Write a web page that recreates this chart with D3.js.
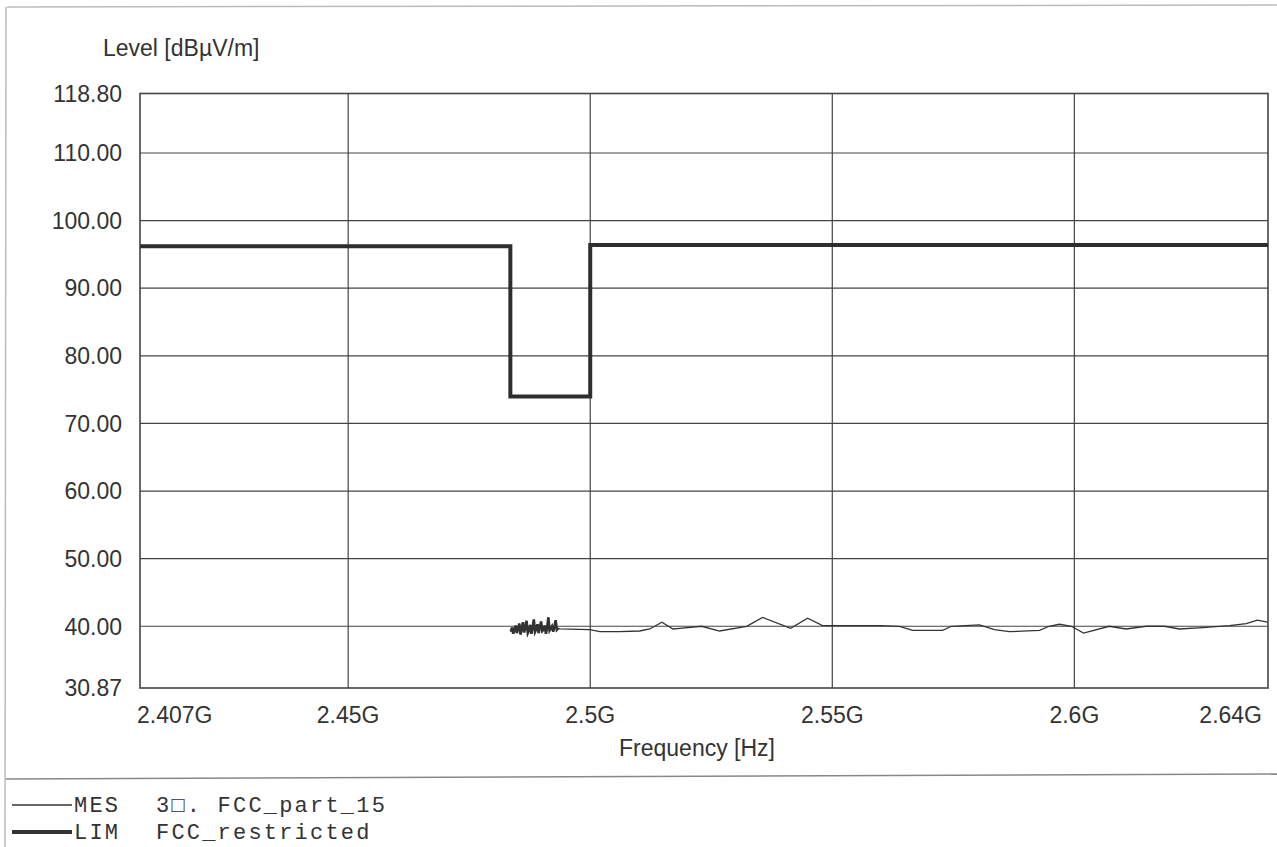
<!DOCTYPE html>
<html>
<head>
<meta charset="utf-8">
<script src="https://cdn.jsdelivr.net/npm/d3@7"></script>
<style>
  html, body { margin: 0; padding: 0; background: #fff; }
  svg { display: block; }
</style>
</head>
<body>
<svg id="chart" width="1277" height="847"></svg>
<script>
// ---- data ----
const yTickValues = [30.87, 40, 50, 60, 70, 80, 90, 100, 110, 118.8];
const yTickLabels = ["30.87", "40.00", "50.00", "60.00", "70.00", "80.00", "90.00", "100.00", "110.00", "118.80"];
const xTickValues = [2.407, 2.45, 2.5, 2.55, 2.6, 2.64];
const xTickLabels = ["2.407G", "2.45G", "2.5G", "2.55G", "2.6G", "2.64G"];

// Limit line FCC_restricted (GHz, dBuV/m)
const limFreq = [2.407, 2.4835, 2.4835, 2.5, 2.5, 2.64];
const limLevel = [96.2, 96.2, 74.0, 74.0, 96.4, 96.4];

// Measurement: dense sweep in restricted band
const mesNoiseFreq = [2.4836, 2.48385, 2.4841, 2.48435, 2.4846, 2.48485, 2.4851, 2.48535, 2.4856, 2.48585,
  2.4861, 2.48635, 2.4866, 2.48685, 2.4871, 2.48735, 2.4876, 2.48785, 2.4881, 2.48835,
  2.4886, 2.48885, 2.4891, 2.48935, 2.4896, 2.48985, 2.4901, 2.49035, 2.4906, 2.49085,
  2.4911, 2.49135, 2.4916, 2.49185, 2.4921, 2.49235, 2.4926, 2.49285, 2.4931, 2.49335];
const mesNoiseLevel = [39.2, 39.8, 38.9, 39.5, 40.1, 39.0, 39.7, 40.4, 38.8, 39.6,
  40.6, 39.1, 39.9, 40.8, 39.0, 39.4, 40.2, 38.9, 39.8, 41.0,
  39.2, 39.6, 40.3, 39.0, 39.9, 40.7, 39.3, 39.5, 40.1, 38.9,
  39.8, 41.3, 39.4, 39.7, 40.0, 39.2, 39.9, 40.9, 39.5, 39.7];

// Measurement: coarse sweep
const mesFreq = [2.4937, 2.4999, 2.5020, 2.5061, 2.5102, 2.5123, 2.5148, 2.5171, 2.5185, 2.5230,
  2.5267, 2.5323, 2.5356, 2.5414, 2.5449, 2.5480, 2.5536, 2.5598, 2.5639, 2.5666,
  2.5728, 2.5746, 2.5804, 2.5835, 2.5866, 2.5928, 2.5948, 2.5969, 2.5994, 2.6019,
  2.6072, 2.6107, 2.6148, 2.6186, 2.6217, 2.6265, 2.6320, 2.6355, 2.6378, 2.6399];
const mesLevel = [39.6, 39.5, 39.2, 39.2, 39.3, 39.6, 40.6, 39.6, 39.7, 40.0,
  39.3, 40.0, 41.3, 39.7, 41.2, 40.1, 40.1, 40.1, 40.0, 39.4,
  39.4, 40.0, 40.2, 39.5, 39.2, 39.4, 40.0, 40.3, 40.0, 39.0,
  40.0, 39.6, 40.0, 40.0, 39.6, 39.8, 40.1, 40.4, 40.9, 40.6];

const yLabel = "Level [dBµV/m]";
const xLabel = "Frequency [Hz]";
const legendItems = [
  {code: "MES", name: "3\u25A1. FCC_part_15"},
  {code: "LIM", name: "FCC_restricted"}
];

// ---- layout ----
const svg = d3.select("#chart");
const L = 140, R = 1268, T = 93.5, B = 688;
const ink = "#333";
const sans = "'Liberation Sans', Arial, sans-serif";
const mono = "'Liberation Mono', 'Courier New', monospace";
const fs = 23;

const x = d3.scaleLinear().domain([2.407, 2.64]).range([L, R]);
const y = d3.scaleLinear().domain([30.87, 118.8]).range([B, T]);

// outer page frame
svg.append("line").attr("x1", 7).attr("x2", 1277).attr("y1", 7).attr("y2", 5)
  .attr("stroke", "#bbb").attr("stroke-width", 1.5);
svg.append("line").attr("x1", 6).attr("x2", 5).attr("y1", 7).attr("y2", 847)
  .attr("stroke", "#bbb").attr("stroke-width", 1.5);

// gridlines
const g = svg.append("g");
g.selectAll("line.hg").data(yTickValues.slice(1, -1)).join("line")
  .attr("x1", L).attr("x2", R)
  .attr("y1", d => y(d)).attr("y2", d => y(d))
  .attr("stroke", "#444").attr("stroke-width", 1.2);
g.selectAll("line.vg").data(xTickValues.slice(1, -1)).join("line")
  .attr("y1", T).attr("y2", B)
  .attr("x1", d => x(d)).attr("x2", d => x(d))
  .attr("stroke", "#444").attr("stroke-width", 1.2);

// frame
svg.append("rect").attr("x", L).attr("y", T).attr("width", R - L).attr("height", B - T)
  .attr("fill", "none").attr("stroke", "#444").attr("stroke-width", 1.6);

// y axis labels
svg.append("g").selectAll("text").data(yTickValues).join("text")
  .attr("x", 122).attr("y", d => y(d)).attr("dy", "0.36em")
  .attr("text-anchor", "end").attr("font-family", sans).attr("font-size", fs)
  .attr("fill", ink).text((d, i) => yTickLabels[i]);

// x axis labels
svg.append("g").selectAll("text").data(xTickValues).join("text")
  .attr("x", (d, i) => i === 0 ? L - 3 : (i === xTickValues.length - 1 ? R - 6 : x(d)))
  .attr("y", 723)
  .attr("text-anchor", (d, i) => i === 0 ? "start" : (i === xTickValues.length - 1 ? "end" : "middle"))
  .attr("font-family", sans).attr("font-size", fs).attr("fill", ink)
  .text((d, i) => xTickLabels[i]);

// axis titles
svg.append("text").attr("x", 103).attr("y", 56).attr("font-family", sans).attr("font-size", fs)
  .attr("fill", ink).text(yLabel);
svg.append("text").attr("x", 697).attr("y", 756).attr("text-anchor", "middle")
  .attr("font-family", sans).attr("font-size", fs).attr("fill", ink).text(xLabel);

// limit line
const limData = limFreq.map((f, i) => [f, limLevel[i]]);
svg.append("path").datum(limData)
  .attr("d", d3.line().x(d => x(d[0])).y(d => y(d[1])))
  .attr("fill", "none").attr("stroke", "#2e2e2e").attr("stroke-width", 4).attr("stroke-linejoin", "miter");

// measurement
const noiseData = mesNoiseFreq.map((f, i) => [f, mesNoiseLevel[i]]);
const mesData = noiseData.concat(mesFreq.map((f, i) => [f, mesLevel[i]]));
svg.append("path").datum(noiseData)
  .attr("d", d3.line().x(d => x(d[0])).y(d => y(d[1])))
  .attr("fill", "none").attr("stroke", "#333").attr("stroke-width", 2.6);
svg.append("path").datum(mesData)
  .attr("d", d3.line().x(d => x(d[0])).y(d => y(d[1])))
  .attr("fill", "none").attr("stroke", "#333").attr("stroke-width", 1.3);

// legend separator
svg.append("line").attr("x1", 6).attr("x2", 1277).attr("y1", 779).attr("y2", 774)
  .attr("stroke", "#888").attr("stroke-width", 1.5);

// legend
const leg = svg.append("g");
legendItems.forEach((it, i) => {
  const yy = 805 + i * 27;
  leg.append("line").attr("x1", 12).attr("x2", 72).attr("y1", yy).attr("y2", yy)
    .attr("stroke", "#333").attr("stroke-width", i === 0 ? 1.3 : 4);
  leg.append("text").attr("x", 74).attr("y", yy + 7).attr("font-family", mono).attr("font-size", 22)
    .attr("letter-spacing", 2.2).attr("fill", ink).text(it.code);
  leg.append("text").attr("x", 156).attr("y", yy + 7).attr("font-family", mono).attr("font-size", 22)
    .attr("letter-spacing", 2.2).attr("fill", ink).text(it.name);
});
</script>
</body>
</html>
